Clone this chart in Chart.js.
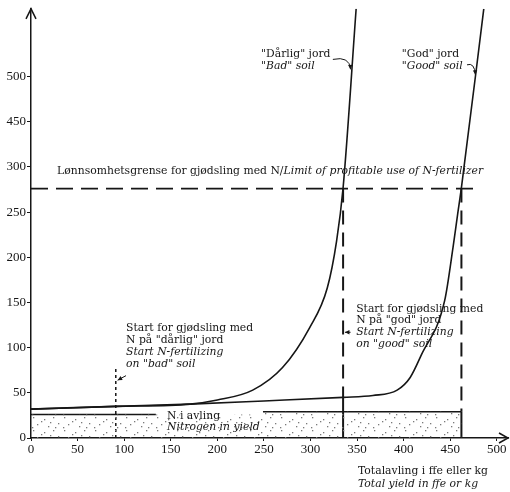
<!DOCTYPE html>
<html>
<head>
<meta charset="utf-8">
<script src="https://cdn.jsdelivr.net/npm/chart.js@4/dist/chart.umd.min.js"></script>
<style>
  html, body { margin: 0; padding: 0; background: #fff; }
  #wrap { width: 510px; height: 492px; }
</style>
</head>
<body>
<div id="wrap"><canvas id="chart"></canvas></div>
<script>
// --- DATA ---
const xTicks = [0, 50, 100, 150, 200, 250, 300, 350, 400, 450, 500];
// the y axis is broken above 300: positions 350/400 carry labels 450/500
const yTicks = [0, 50, 100, 150, 200, 250, 300, 350, 400];
const yTickLabels = ['0', '50', '100', '150', '200', '250', '300', '450', '500'];

const badX  = [0, 91, 171, 200, 238, 270, 299, 318, 328, 335, 349];
const badY  = [32, 35, 37.5, 42, 53, 78, 122, 166, 218, 277, 475];
const goodX = [0, 91, 171, 250, 335, 367, 393, 407, 419, 444, 453, 458, 462, 486];
const goodY = [32, 35, 37.5, 41, 45, 47, 53, 67, 92, 152, 211, 248, 277, 475];

const limitY = 276;          // limit of profitable use
const limitEndX = 478;
const badLimitX = 335;       // bad soil reaches the limit
const goodLimitX = 462;      // good soil reaches the limit
const badStartX = 91;        // start N-fertilizing on bad soil
const badStartTop = 78;
const nYieldLeft = 26, nYieldLeftEnd = 134;
const nYieldRight = 29, nYieldRightStart = 249;

// --- TEXT (positions in data units) ---
const texts = [
  { x: 28, y: 295, parts: [['Lønnsomhetsgrense for gjødsling med N/', false], ['Limit of profitable use of N-fertilizer', true]] },
  { x: 247, y: 425, parts: [['"Dårlig" jord', false]] },
  { x: 247, y: 411, parts: [['"Bad" soil', true]] },
  { x: 398, y: 425, parts: [['"God" jord', false]] },
  { x: 398, y: 411, parts: [['"Good" soil', true]] },
  { x: 102, y: 122, parts: [['Start for gjødsling med', false]] },
  { x: 102, y: 108, parts: [['N på "dårlig" jord', false]] },
  { x: 102, y: 95,  parts: [['Start N-fertilizing', true]] },
  { x: 102, y: 82,  parts: [['on "bad" soil', true]] },
  { x: 349, y: 143, parts: [['Start for gjødsling med', false]] },
  { x: 349, y: 130, parts: [['N på "god" jord', false]] },
  { x: 349, y: 117, parts: [['Start N-fertilizing', true]] },
  { x: 349, y: 104, parts: [['on "good" soil', true]] },
  { x: 146, y: 24,  parts: [['N i avling', false]] },
  { x: 146, y: 12,  parts: [['Nitrogen in yield', true]] },
  { x: 351, y: -37, parts: [['Totalavling i ffe eller kg', false]] },
  { x: 351, y: -51, parts: [['Total yield in ffe or kg', true]] }
];
const leaders = [
  { from: [324, 419], ctrl: [342, 423], to: [343, 408] },
  { from: [468, 413], ctrl: [476, 416], to: [477, 402] }
];
const arrows = [
  { from: [102, 69], to: [93, 64] },
  { from: [343, 117], to: [337, 117] }
];

const pts = (xs, ys) => xs.map((x, i) => ({ x: x, y: ys[i] }));
const INK = '#161616';
const SERIF = '"Liberation Serif", "DejaVu Serif", serif';
const NOTE_FONT = '10.8px "DejaVu Serif", "Liberation Serif", serif';

// --- STIPPLE ---
function stipple() {
  const c = document.createElement('canvas');
  c.width = 31; c.height = 13;
  const g = c.getContext('2d');
  g.fillStyle = '#7a7a7a';
  [[2, 1], [13, 3], [22, 1], [27, 7], [6, 8], [17, 10], [24, 11], [10, 5], [19, 6], [1, 11]]
    .forEach(p => g.fillRect(p[0], p[1], 1.3, 1.3));
  return document.getElementById('chart').getContext('2d').createPattern(c, 'repeat');
}

const line = (data, extra) => Object.assign({
  data: data, borderColor: INK, borderWidth: 1.6, pointRadius: 0, fill: false, tension: 0
}, extra || {});

// --- DRAWING EXTRAS ---
const extras = {
  id: 'extras',
  afterDatasetsDraw(chart) {
    const c = chart.ctx, xs = chart.scales.x, ys = chart.scales.y, a = chart.chartArea;
    const px = v => xs.getPixelForValue(v), py = v => ys.getPixelForValue(v);
    c.save();
    c.strokeStyle = INK; c.fillStyle = INK; c.lineWidth = 1.5;

    // axis arrows
    c.beginPath();
    c.moveTo(a.left - 5, a.top + 10); c.lineTo(a.left, a.top); c.lineTo(a.left + 5, a.top + 10);
    c.moveTo(a.right - 9, a.bottom - 5); c.lineTo(a.right, a.bottom); c.lineTo(a.right - 9, a.bottom + 5);
    c.stroke();

    const head = (x0, y0, x1, y1) => {
      const ang = Math.atan2(y1 - y0, x1 - x0);
      c.beginPath();
      c.moveTo(x1, y1);
      c.lineTo(x1 - 5 * Math.cos(ang - 0.45), y1 - 5 * Math.sin(ang - 0.45));
      c.lineTo(x1 - 5 * Math.cos(ang + 0.45), y1 - 5 * Math.sin(ang + 0.45));
      c.closePath(); c.fill();
    };
    c.lineWidth = 1;
    leaders.forEach(l => {
      c.beginPath();
      c.moveTo(px(l.from[0]), py(l.from[1]));
      c.quadraticCurveTo(px(l.ctrl[0]), py(l.ctrl[1]), px(l.to[0]), py(l.to[1]));
      c.stroke();
      head(px(l.ctrl[0]), py(l.ctrl[1]), px(l.to[0]), py(l.to[1]));
    });
    arrows.forEach(l => {
      c.beginPath();
      c.moveTo(px(l.from[0]), py(l.from[1])); c.lineTo(px(l.to[0]), py(l.to[1]));
      c.stroke();
      head(px(l.from[0]), py(l.from[1]), px(l.to[0]), py(l.to[1]));
    });

    // labels
    c.textBaseline = 'middle'; c.textAlign = 'left';
    texts.forEach(t => {
      let x = px(t.x);
      t.parts.forEach(p => {
        c.font = (p[1] ? 'italic ' : '') + NOTE_FONT;
        c.fillText(p[0], x, py(t.y));
        x += c.measureText(p[0]).width;
      });
    });
    c.restore();
  }
};

new Chart(document.getElementById('chart'), {
  type: 'line',
  data: {
    datasets: [
      line([{ x: 0, y: nYieldLeft }, { x: nYieldRightStart, y: nYieldLeft }, { x: nYieldRightStart, y: nYieldRight }, { x: goodLimitX, y: nYieldRight }],
        { borderWidth: 0, borderColor: 'rgba(0,0,0,0)', fill: 'origin', backgroundColor: stipple() }),
      line([{ x: 0, y: nYieldLeft }, { x: nYieldLeftEnd, y: nYieldLeft }]),
      line([{ x: nYieldRightStart, y: nYieldRight }, { x: goodLimitX, y: nYieldRight }]),
      line(pts(goodX, goodY), { cubicInterpolationMode: 'monotone' }),
      line(pts(badX, badY), { cubicInterpolationMode: 'monotone' }),
      line([{ x: 0, y: limitY }, { x: limitEndX, y: limitY }], { borderDash: [17, 8], borderWidth: 1.8 }),
      line([{ x: badLimitX, y: limitY }, { x: badLimitX, y: goodY[4] }], { borderDash: [14, 8], borderWidth: 2 }),
      line([{ x: badLimitX, y: goodY[4] }, { x: badLimitX, y: 0 }], { borderWidth: 2 }),
      line([{ x: goodLimitX, y: limitY }, { x: goodLimitX, y: nYieldRight }], { borderDash: [14, 8], borderWidth: 2 }),
      line([{ x: goodLimitX, y: nYieldRight }, { x: goodLimitX, y: 0 }], { borderWidth: 2 }),
      line([{ x: badStartX, y: 0 }, { x: badStartX, y: badStartTop }], { borderDash: [3, 3], borderWidth: 1.5 })
    ]
  },
  options: {
    responsive: true, maintainAspectRatio: false, animation: false,
    layout: { padding: { top: 8, right: 2, left: 0, bottom: 0 } },
    plugins: { legend: { display: false }, tooltip: { enabled: false } },
    scales: {
      x: {
        type: 'linear', min: 0, max: 512,
        afterBuildTicks: s => { s.ticks = xTicks.map(v => ({ value: v })); },
        afterFit: s => { s.height = 54; },
        ticks: { font: { family: SERIF, size: 13 }, color: INK, padding: 1, maxRotation: 0 },
        grid: { drawOnChartArea: false, tickLength: 3, color: INK },
        border: { color: INK, width: 1.5 }
      },
      y: {
        type: 'linear', min: 0, max: 475,
        afterBuildTicks: s => { s.ticks = yTicks.map(v => ({ value: v })); },
        afterFit: s => { s.width = 31; },
        ticks: { font: { family: SERIF, size: 13 }, color: INK, padding: 1,
          callback: v => yTickLabels[yTicks.indexOf(v)] },
        grid: { drawOnChartArea: false, tickLength: 4, color: INK },
        border: { color: INK, width: 1.5 }
      }
    }
  },
  plugins: [extras]
});
</script>
</body>
</html>
